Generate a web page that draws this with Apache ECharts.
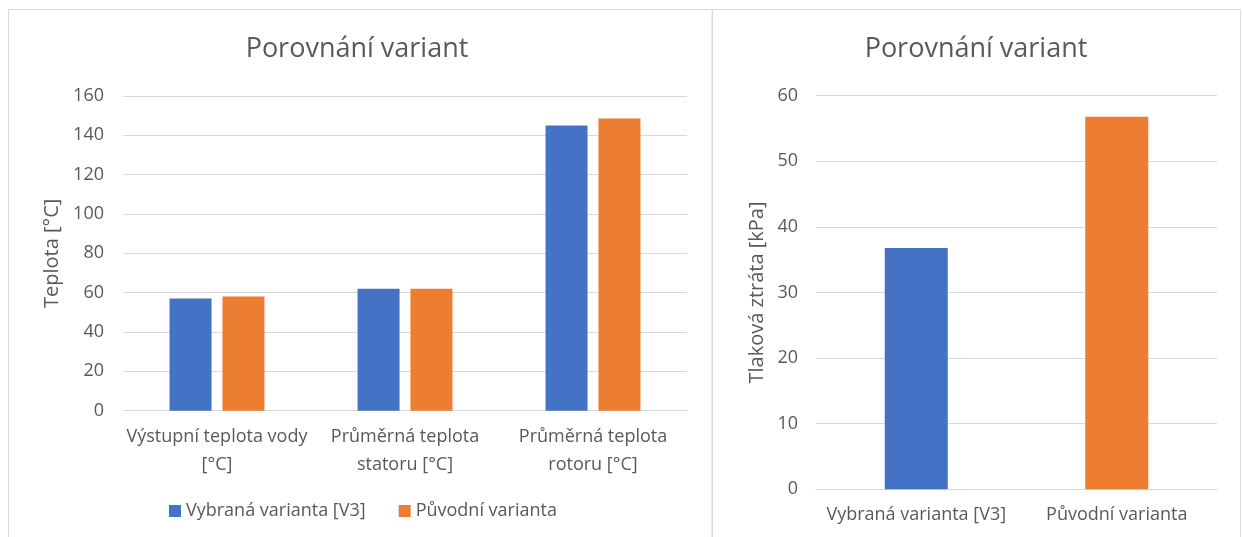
<!DOCTYPE html>
<html>
<head>
<meta charset="utf-8">
<script src="https://cdn.jsdelivr.net/npm/echarts@6/dist/echarts.min.js"></script>
<style>
html,body{margin:0;padding:0;background:#fff;}
#c{width:1243px;height:537px;}
</style>
</head>
<body>
<div id="c"></div>
<script>
var chartTitle = 'Porovnání variant';
var leftCategories = ['Výstupní teplota vody\n[°C]', 'Průměrná teplota\nstatoru [°C]', 'Průměrná teplota\nrotoru [°C]'];
var seriesNames = ['Vybraná varianta [V3]', 'Původní varianta'];
var selectedValues = [57, 62, 145];
var originalValues = [58, 62, 148.5];
var leftAxisName = 'Teplota [°C]';
var rightCategories = ['Vybraná varianta [V3]', 'Původní varianta'];
var rightValues = [36.8, 56.8];
var rightAxisName = 'Tlaková ztráta [kPa]';

var BLUE = '#4472C4', ORANGE = '#ED7D31', TXT = '#595959', GRID = '#D9D9D9';
var FONT = '"Open Sans", "Noto Sans", sans-serif';

var chart = echarts.init(document.getElementById('c'), null, {renderer: 'canvas'});
var axisLabel = {color: TXT, fontSize: 18, fontFamily: FONT};
var nameStyle = {color: TXT, fontSize: 20, fontFamily: FONT};
chart.setOption({
  animation: false,
  backgroundColor: '#fff',
  textStyle: {fontFamily: FONT},
  graphic: [
    {type: 'rect', shape: {x: 8.5, y: 9.5, width: 703.5, height: 600}, style: {fill: 'none', stroke: GRID, lineWidth: 1}, silent: true},
    {type: 'rect', shape: {x: 712.5, y: 9.5, width: 528, height: 600}, style: {fill: 'none', stroke: GRID, lineWidth: 1}, silent: true}
  ],
  title: [
    {text: chartTitle, left: 352, top: 31, textAlign: 'center', textStyle: {color: TXT, fontSize: 27, fontWeight: 'normal', fontFamily: FONT}},
    {text: chartTitle, left: 971, top: 31, textAlign: 'center', textStyle: {color: TXT, fontSize: 27, fontWeight: 'normal', fontFamily: FONT}}
  ],
  legend: {
    data: seriesNames,
    left: 164,
    top: 497,
    icon: 'rect',
    itemWidth: 12,
    itemHeight: 12,
    itemGap: 33,
    textStyle: {color: TXT, fontSize: 18, fontFamily: FONT}
  },
  grid: [
    {left: 123, right: 556, top: 96, bottom: 126.3},
    {left: 816, right: 26, top: 95.7, bottom: 47.7}
  ],
  xAxis: [
    {type: 'category', gridIndex: 0, data: leftCategories,
     axisLine: {lineStyle: {color: GRID}}, axisTick: {show: false},
     axisLabel: Object.assign({}, axisLabel, {margin: 12, lineHeight: 28, interval: 0})},
    {type: 'category', gridIndex: 1, data: rightCategories,
     axisLine: {lineStyle: {color: GRID}}, axisTick: {show: false},
     axisLabel: Object.assign({}, axisLabel, {margin: 12, lineHeight: 28, interval: 0})}
  ],
  yAxis: [
    {type: 'value', gridIndex: 0, min: 0, max: 160, interval: 20,
     name: leftAxisName, nameLocation: 'middle', nameGap: 61, nameRotate: 90,
     nameTextStyle: nameStyle,
     axisLine: {show: false}, axisTick: {show: false},
     splitLine: {lineStyle: {color: GRID}},
     axisLabel: Object.assign({}, axisLabel, {margin: 19})},
    {type: 'value', gridIndex: 1, min: 0, max: 60, interval: 10,
     name: rightAxisName, nameLocation: 'middle', nameGap: 49, nameRotate: 90,
     nameTextStyle: nameStyle,
     axisLine: {show: false}, axisTick: {show: false},
     splitLine: {lineStyle: {color: GRID}},
     axisLabel: Object.assign({}, axisLabel, {margin: 18})}
  ],
  series: [
    {name: seriesNames[0], type: 'bar', xAxisIndex: 0, yAxisIndex: 0, data: selectedValues,
     itemStyle: {color: BLUE}, barWidth: 42, barGap: '26%'},
    {name: seriesNames[1], type: 'bar', xAxisIndex: 0, yAxisIndex: 0, data: originalValues,
     itemStyle: {color: ORANGE}, barWidth: 42, barGap: '26%'},
    {name: 'Tlaková ztráta', type: 'bar', xAxisIndex: 1, yAxisIndex: 1,
     data: rightValues.map(function (v, i) { return {value: v, itemStyle: {color: i === 0 ? BLUE : ORANGE}}; }),
     barWidth: 63}
  ]
});
</script>
</body>
</html>
